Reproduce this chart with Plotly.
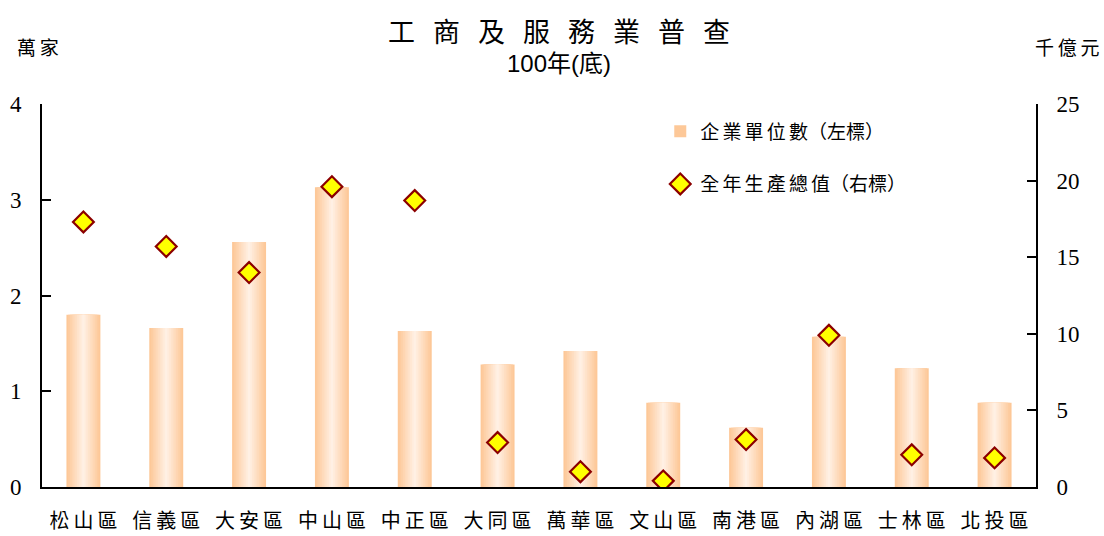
import plotly.graph_objects as go

districts = ["松山區", "信義區", "大安區", "中山區", "中正區", "大同區",
             "萬華區", "文山區", "南港區", "內湖區", "士林區", "北投區"]
units_10k = [1.80, 1.66, 2.56, 3.13, 1.63, 1.28, 1.42, 0.88, 0.62, 1.57, 1.24, 0.88]
output_100b = [17.3, 15.7, 14.0, 19.6, 18.7, 2.9, 1.0, 0.4, 3.1, 9.9, 2.1, 1.9]
left_ticks = [0, 1, 2, 3, 4]
right_ticks = [0, 5, 10, 15, 20, 25]

CJK = "Noto Sans CJK TC"
NUM = "Liberation Serif"

def spaced(s, sep):
    return sep.join(list(s))

fig = go.Figure()

# gradient-like bars: overlaid bars of decreasing width and lighter colour
edge = (253, 200, 152)
center = (255, 240, 228)
n_layers = 10
max_w = 0.41
for i in range(n_layers):
    t = i / (n_layers - 1)
    c = tuple(round(edge[k] + (center[k] - edge[k]) * t) for k in range(3))
    w = max_w * (1 - t * 0.93)
    fig.add_trace(go.Bar(
        x=districts, y=units_10k, width=w,
        marker=dict(color="rgb(%d,%d,%d)" % c, line=dict(width=0)),
        name=spaced("企業單位數", "\u2006") + "（左標）", showlegend=(i == 0),
        legendgroup="a", hoverinfo="skip" if i else None,
    ))

fig.add_trace(go.Scatter(
    x=districts, y=output_100b, yaxis="y2", mode="markers",
    marker=dict(symbol="diamond", size=16, color="#FFFF00",
                line=dict(color="#8B0000", width=2.2)),
    name=spaced("全年生產總值", "\u2006") + "（右標）", legendgroup="b",
))

title_main = spaced("工商及服務業普查", "\u2002\u2006")

fig.update_layout(
    width=1104, height=536,
    margin=dict(l=42, r=68, t=104, b=49, autoexpand=False),
    paper_bgcolor="white", plot_bgcolor="white",
    barmode="overlay",
    font=dict(family=CJK, color="black", size=18),
    xaxis=dict(
        range=[-0.5, len(districts) - 0.5],
        showline=True, linecolor="black", linewidth=2, ticks="",
        tickvals=districts,
        ticktext=[spaced(d, "\u2009") for d in districts],
        tickfont=dict(family=CJK, size=20), ticklabelstandoff=15,
        showgrid=False, zeroline=False, automargin=False,
    ),
    yaxis=dict(
        range=[0, 4], tickvals=left_ticks, showline=True, linecolor="black",
        linewidth=2, ticks="inside", ticklen=9, tickwidth=2, tickcolor="black",
        showgrid=False, zeroline=False, automargin=False,
        tickfont=dict(family=NUM, size=23), ticklabelstandoff=14,
    ),
    yaxis2=dict(
        range=[0, 25], tickvals=right_ticks, overlaying="y", side="right",
        showline=True, linecolor="black", linewidth=2, ticks="inside",
        ticklen=9, tickwidth=2, tickcolor="black", showgrid=False,
        zeroline=False, tickfont=dict(family=NUM, size=23),
        ticklabelstandoff=14, automargin=False,
    ),
    legend=dict(
        x=0.622, y=0.978, xanchor="left", yanchor="top",
        font=dict(family=CJK, size=19), tracegroupgap=25,
        bgcolor="rgba(0,0,0,0)", itemwidth=30,
    ),
    annotations=[
        dict(text=title_main, xref="paper", yref="paper", x=0.52, y=1.192,
             xanchor="center", yanchor="middle", showarrow=False,
             font=dict(family=CJK, size=27)),
        dict(text="100年(底)", xref="paper", yref="paper", x=0.52, y=1.105,
             xanchor="center", yanchor="middle", showarrow=False,
             font=dict(family="Liberation Sans, Noto Sans CJK TC", size=24)),
        dict(text=spaced("萬家", "\u2009"), xref="paper", yref="paper", x=-0.004, y=1.15,
             xanchor="center", yanchor="middle", showarrow=False,
             font=dict(family=CJK, size=19)),
        dict(text=spaced("千億元", "\u2009"), xref="paper", yref="paper", x=1.032, y=1.15,
             xanchor="center", yanchor="middle", showarrow=False,
             font=dict(family=CJK, size=19)),
    ],
)

fig.write_html("out.html", config={"displayModeBar": False},
               post_script="document.body.style.margin='0';")
